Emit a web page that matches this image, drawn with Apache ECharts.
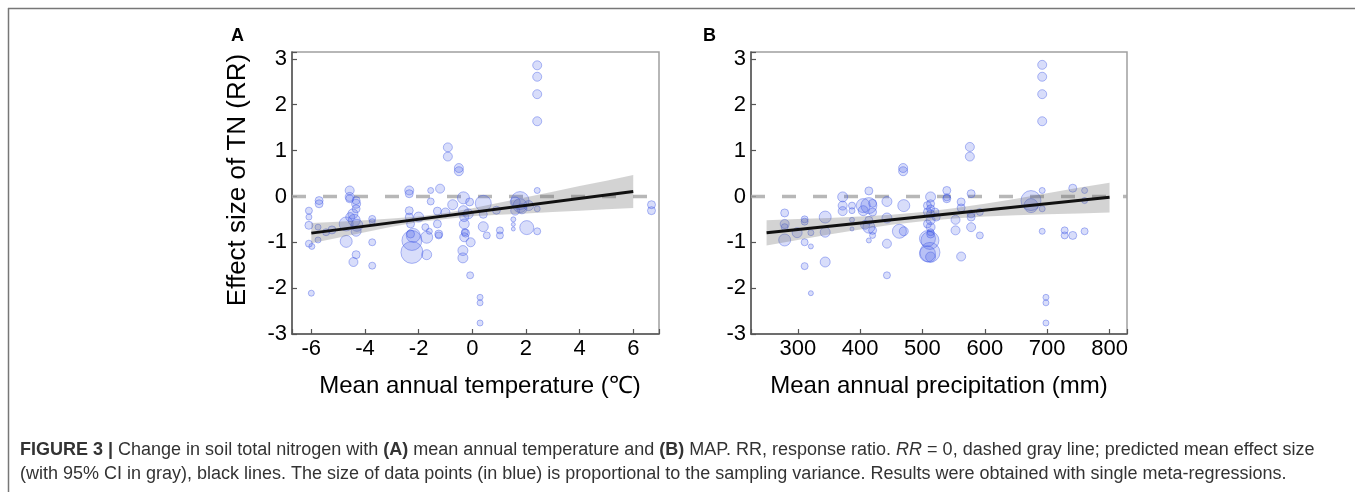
<!DOCTYPE html>
<html>
<head>
<meta charset="utf-8">
<title>Figure 3</title>
<script src="https://cdn.jsdelivr.net/npm/echarts@6.0.0/dist/echarts.min.js"></script>
<style>
  html, body { margin: 0; padding: 0; background: #fff; }
  #chart { width: 1355px; height: 492px; }
</style>
</head>
<body>
<div id="chart"></div>
<script>
// panel A: [mean annual temperature (°C), effect size RR, relative sampling variance]
var tempPoints = [
  [2.42, 2.86, 9], [2.42, 2.61, 9], [2.42, 2.23, 9], [2.42, 1.64, 9], [2.42, 0.13, 6], [2.42, -0.76, 7], [2.42, -0.27, 6],
  [6.68, -0.18, 8], [6.68, -0.31, 8],
  [-0.91, 1.07, 9], [-0.91, 0.87, 9],
  [-0.5, 0.62, 9], [-0.5, 0.55, 9],
  [-1.2, 0.17, 9],
  [-1.55, 0.13, 6], [-1.55, -0.11, 7],
  [-2.35, 0.13, 9], [-2.35, 0.06, 8],
  [-4.57, 0.13, 9], [-4.57, -0.01, 9], [-4.57, -0.05, 8],
  [-5.71, -0.09, 8], [-5.71, -0.16, 8],
  [-6.09, -0.31, 7], [-6.09, -0.45, 6], [-6.09, -0.63, 8], [-6.09, -1.03, 7], [-5.98, -1.09, 6], [-6.0, -2.11, 6],
  [-5.75, -0.67, 6], [-5.75, -0.95, 6],
  [-5.23, -0.73, 8], [-5.45, -0.78, 7],
  [-4.7, -0.98, 12], [-4.7, -0.6, 14],
  [-4.33, -0.09, 8], [-4.33, -0.16, 9], [-4.33, -0.27, 8], [-4.45, -0.38, 10], [-4.4, -0.52, 12], [-4.3, -0.63, 12], [-4.33, -0.76, 10], [-4.55, -0.45, 9],
  [-4.33, -1.27, 8], [-4.43, -1.43, 9],
  [-3.73, -0.49, 7], [-3.73, -0.55, 6], [-3.73, -1.0, 7], [-3.73, -1.51, 7],
  [-2.35, -0.31, 8], [-2.35, -0.45, 8], [-2.3, -0.6, 8], [-2.3, -0.82, 8], [-2.25, -0.96, 20], [-2.25, -1.22, 22], [-2.2, -0.85, 14],
  [-2.0, -0.45, 10], [-1.7, -0.89, 12], [-1.7, -1.27, 10], [-1.75, -0.67, 7], [-1.6, -0.76, 6],
  [-1.3, -0.32, 8], [-1.3, -0.6, 8], [-1.25, -0.82, 8], [-1.25, -0.85, 7],
  [-0.73, -0.18, 10], [-1.0, -0.35, 9],
  [-0.33, -0.03, 12], [-0.33, -0.31, 10], [-0.3, -0.45, 9], [-0.3, -0.6, 10], [-0.28, -0.78, 7], [-0.25, -0.8, 8],
  [-0.3, -0.89, 9], [-0.35, -1.18, 10], [-0.35, -1.34, 10], [-0.08, -1.72, 7],
  [-0.15, -0.38, 10], [-0.1, -0.12, 8], [-0.06, -1.0, 9],
  [0.41, -0.15, 16], [0.41, -0.39, 8], [0.41, -0.66, 10],
  [0.29, -2.2, 6], [0.29, -2.32, 6], [0.29, -2.76, 6],
  [0.54, -0.85, 7],
  [1.03, -0.74, 7], [1.03, -0.85, 7],
  [1.53, -0.5, 5], [1.53, -0.61, 4], [1.53, -0.71, 4],
  [1.78, -0.09, 18], [1.78, -0.2, 14], [1.85, -0.27, 10], [1.6, -0.12, 10], [1.6, -0.31, 9], [2.1, -0.2, 10],
  [2.03, -0.68, 14], [0.9, -0.3, 8]
];

// panel B: [mean annual precipitation (mm), effect size RR, relative sampling variance]
var precPoints = [
  [692, 2.87, 9], [692, 2.61, 9], [692, 2.23, 9], [692, 1.64, 9], [692, 0.13, 6], [692, -0.76, 6], [692, -0.27, 6],
  [698, -2.2, 6], [698, -2.32, 6], [698, -2.76, 6],
  [576, 1.08, 9], [576, 0.87, 9],
  [469, 0.62, 9], [469, 0.55, 9],
  [674, -0.09, 20], [674, -0.2, 14],
  [741, 0.18, 8], [741, -0.85, 8],
  [760, 0.13, 6], [760, -0.09, 6], [760, -0.76, 7],
  [728, -0.74, 7], [728, -0.85, 7],
  [592, -0.34, 7], [592, -0.85, 7],
  [578, 0.06, 8], [578, -0.38, 8], [578, -0.67, 9], [578, -0.45, 8],
  [562, -0.12, 8], [562, -1.31, 9], [562, -0.25, 8],
  [553, -0.51, 9], [553, -0.74, 9],
  [539, 0.13, 8], [539, -0.05, 8], [539, -0.02, 7],
  [513, -0.01, 10], [513, -0.16, 8], [513, -0.27, 8], [513, -0.38, 8], [513, -0.52, 9], [513, -0.67, 9], [513, -0.82, 8],
  [512, -0.96, 18], [512, -1.22, 20], [513, -1.32, 10], [513, -0.78, 7],
  [508, -0.2, 8], [508, -0.34, 8], [508, -0.92, 16], [508, -1.25, 16], [508, -0.6, 8],
  [520, -0.34, 8], [522, -0.45, 8],
  [443, -0.11, 10], [443, -0.47, 10], [443, -1.03, 9], [443, -1.72, 7],
  [463, -0.76, 14], [470, -0.2, 12], [470, -0.76, 9],
  [414, 0.12, 8], [414, -0.2, 16], [414, -0.52, 8], [414, -0.67, 12], [414, -0.96, 5],
  [405, -0.2, 14], [405, -0.31, 10], [408, -0.62, 9],
  [420, -0.15, 8], [420, -0.34, 8], [420, -0.74, 8], [420, -0.85, 6],
  [387, -0.2, 7], [387, -0.31, 6], [387, -0.51, 5], [387, -0.71, 4],
  [372, -0.01, 10], [372, -0.2, 9], [372, -0.32, 9],
  [344, -0.45, 12], [344, -0.78, 10], [344, -1.43, 10],
  [321, -0.79, 6], [321, -1.09, 5], [321, -2.11, 5],
  [311, -0.5, 7], [311, -1.0, 7], [311, -1.52, 7], [311, -0.55, 7],
  [299, -0.79, 10],
  [279, -0.36, 8], [279, -0.6, 9], [279, -0.95, 12], [279, -0.67, 7]
];

// fitted lines and 95% CI
var tempFitX = [-6, 6];
var tempFitY = [-0.80, 0.11];
var tempBandX = [-6, -5, -4, -3, -2, -1, 0, 1, 2, 3, 4, 5, 6];
var tempBandLo = [-1.02, -0.90, -0.78, -0.66, -0.56, -0.49, -0.43, -0.40, -0.37, -0.34, -0.31, -0.28, -0.25];
var tempBandHi = [-0.58, -0.55, -0.52, -0.48, -0.44, -0.36, -0.26, -0.14, -0.02, 0.10, 0.23, 0.34, 0.47];

var precFitX = [250, 800];
var precFitY = [-0.79, -0.02];
var precBandX = [250, 300, 350, 400, 450, 500, 550, 600, 650, 700, 750, 800];
var precBandLo = [-1.07, -0.95, -0.83, -0.72, -0.62, -0.54, -0.48, -0.44, -0.41, -0.39, -0.37, -0.35];
var precBandHi = [-0.52, -0.49, -0.47, -0.44, -0.40, -0.34, -0.26, -0.16, -0.05, 0.07, 0.19, 0.30];

var tempRange = [-6.72, 6.96];
var precRange = [225, 828];
var rrRange = [-3, 3.15];

var FONT = 'Liberation Sans, Arial, Helvetica, sans-serif';

var chart = echarts.init(document.getElementById('chart'), null, { renderer: 'canvas' });

// only label the round ticks, not the axis ends
function stepLabel(step) {
  return function (v) {
    var k = v / step;
    return Math.abs(k - Math.round(k)) < 1e-6 ? String(Math.round(k) * step) : '';
  };
}

function bandSeries(idx, bx, lo, hi) {
  return {
    type: 'custom',
    xAxisIndex: idx,
    yAxisIndex: idx,
    silent: true,
    z: 3,
    data: bx.map(function (x, i) { return [x, lo[i], hi[i]]; }),
    encode: { x: 0, y: [1, 2] },
    renderItem: function (params, api) {
      if (params.dataIndex !== 0) return null;
      var pts = [];
      for (var i = 0; i < bx.length; i++) pts.push(api.coord([bx[i], hi[i]]));
      for (var j = bx.length - 1; j >= 0; j--) pts.push(api.coord([bx[j], lo[j]]));
      return {
        type: 'polygon',
        shape: { points: pts },
        style: { fill: 'rgba(110,110,110,0.30)', stroke: null }
      };
    }
  };
}

function xAxisOf(idx, range, split, step) {
  return {
    type: 'value',
    gridIndex: idx,
    min: range[0],
    max: range[1],
    splitNumber: split,
    axisLine: { onZero: false, lineStyle: { color: '#555', width: 1.5 } },
    axisTick: { inside: true, length: 5, lineStyle: { color: '#555', width: 1.2 } },
    axisLabel: { color: '#000', fontSize: 22, fontFamily: FONT, margin: 4, formatter: stepLabel(step) },
    splitLine: { show: false }
  };
}

function yAxisOf(idx) {
  return {
    type: 'value',
    gridIndex: idx,
    min: rrRange[0],
    max: rrRange[1],
    interval: 1,
    axisLine: { onZero: false, lineStyle: { color: '#555', width: 1.5 } },
    axisTick: { inside: true, length: 5, lineStyle: { color: '#555', width: 1.2 } },
    axisLabel: { color: '#000', fontSize: 22, fontFamily: FONT, margin: 5, formatter: stepLabel(1) },
    splitLine: { show: false }
  };
}

function panelSeries(idx, pts, range, bx, lo, hi, fx, fy) {
  return [
    {
      type: 'scatter',
      xAxisIndex: idx,
      yAxisIndex: idx,
      z: 2,
      data: pts,
      symbolSize: function (d) { return d[2]; },
      itemStyle: { color: 'rgba(60,85,230,0.25)', borderColor: 'rgba(60,85,230,0.5)', borderWidth: 1 },
      emphasis: { disabled: true }
    },
    {
      type: 'line',
      xAxisIndex: idx,
      yAxisIndex: idx,
      z: 2,
      silent: true,
      symbol: 'none',
      data: [[range[0], 0], [range[1], 0]],
      lineStyle: { color: 'rgba(165,165,165,0.8)', width: 3.5, type: [14, 17] }
    },
    bandSeries(idx, bx, lo, hi),
    {
      type: 'line',
      xAxisIndex: idx,
      yAxisIndex: idx,
      z: 4,
      silent: true,
      symbol: 'none',
      data: fx.map(function (x, i) { return [x, fy[i]]; }),
      lineStyle: { color: '#111', width: 3 }
    }
  ];
}

var option = {
  animation: false,
  backgroundColor: '#fff',
  grid: [
    { left: 292, top: 52, width: 367, height: 282, show: true, borderColor: '#a0a0a0', borderWidth: 1.5, containLabel: false },
    { left: 751, top: 52, width: 376, height: 282, show: true, borderColor: '#a0a0a0', borderWidth: 1.5, containLabel: false }
  ],
  xAxis: [xAxisOf(0, tempRange, 7, 2), xAxisOf(1, precRange, 6, 100)],
  yAxis: [yAxisOf(0), yAxisOf(1)],
  series: []
    .concat(panelSeries(0, tempPoints, tempRange, tempBandX, tempBandLo, tempBandHi, tempFitX, tempFitY))
    .concat(panelSeries(1, precPoints, precRange, precBandX, precBandLo, precBandHi, precFitX, precFitY)),
  graphic: [
    // outer frame (top + left)
    { type: 'line', shape: { x1: 8, y1: 8.5, x2: 1355, y2: 8.5 }, style: { stroke: '#777', lineWidth: 1.5 } },
    { type: 'line', shape: { x1: 8.5, y1: 8, x2: 8.5, y2: 492 }, style: { stroke: '#777', lineWidth: 1.5 } },
    { type: 'text', x: 231, y: 36, style: { text: 'A', font: 'bold 18px ' + FONT, fill: '#000', textVerticalAlign: 'middle' } },
    { type: 'text', x: 703, y: 36, style: { text: 'B', font: 'bold 18px ' + FONT, fill: '#000', textVerticalAlign: 'middle' } },
    { type: 'text', x: 238, y: 180, rotation: Math.PI / 2,
      style: { text: 'Effect size of TN (RR)', font: '26px ' + FONT, fill: '#000', textAlign: 'center', textVerticalAlign: 'middle' } },
    { type: 'text', x: 480, y: 386,
      style: { text: 'Mean annual temperature (℃)', font: '24px ' + FONT, fill: '#000', textAlign: 'center', textVerticalAlign: 'middle' } },
    { type: 'text', x: 939, y: 386,
      style: { text: 'Mean annual precipitation (mm)', font: '24px ' + FONT, fill: '#000', textAlign: 'center', textVerticalAlign: 'middle' } },
    { type: 'text', x: 20, y: 450,
      style: {
        text: '{b|FIGURE 3 |} Change in soil total nitrogen with {b|(A)} mean annual temperature and {b|(B)} MAP. RR, response ratio. {i|RR} = 0, dashed gray line; predicted mean effect size',
        font: '18px ' + FONT, fill: '#333', textVerticalAlign: 'middle',
        rich: {
          b: { fontWeight: 'bold', fontSize: 18, fontFamily: FONT, fill: '#333' },
          i: { fontStyle: 'italic', fontSize: 18, fontFamily: FONT, fill: '#333' }
        }
      } },
    { type: 'text', x: 20, y: 474,
      style: {
        text: '(with 95% CI in gray), black lines. The size of data points (in blue) is proportional to the sampling variance. Results were obtained with single meta-regressions.',
        font: '18px ' + FONT, fill: '#333', textVerticalAlign: 'middle'
      } }
  ]
};

chart.setOption(option);
</script>
</body>
</html>
